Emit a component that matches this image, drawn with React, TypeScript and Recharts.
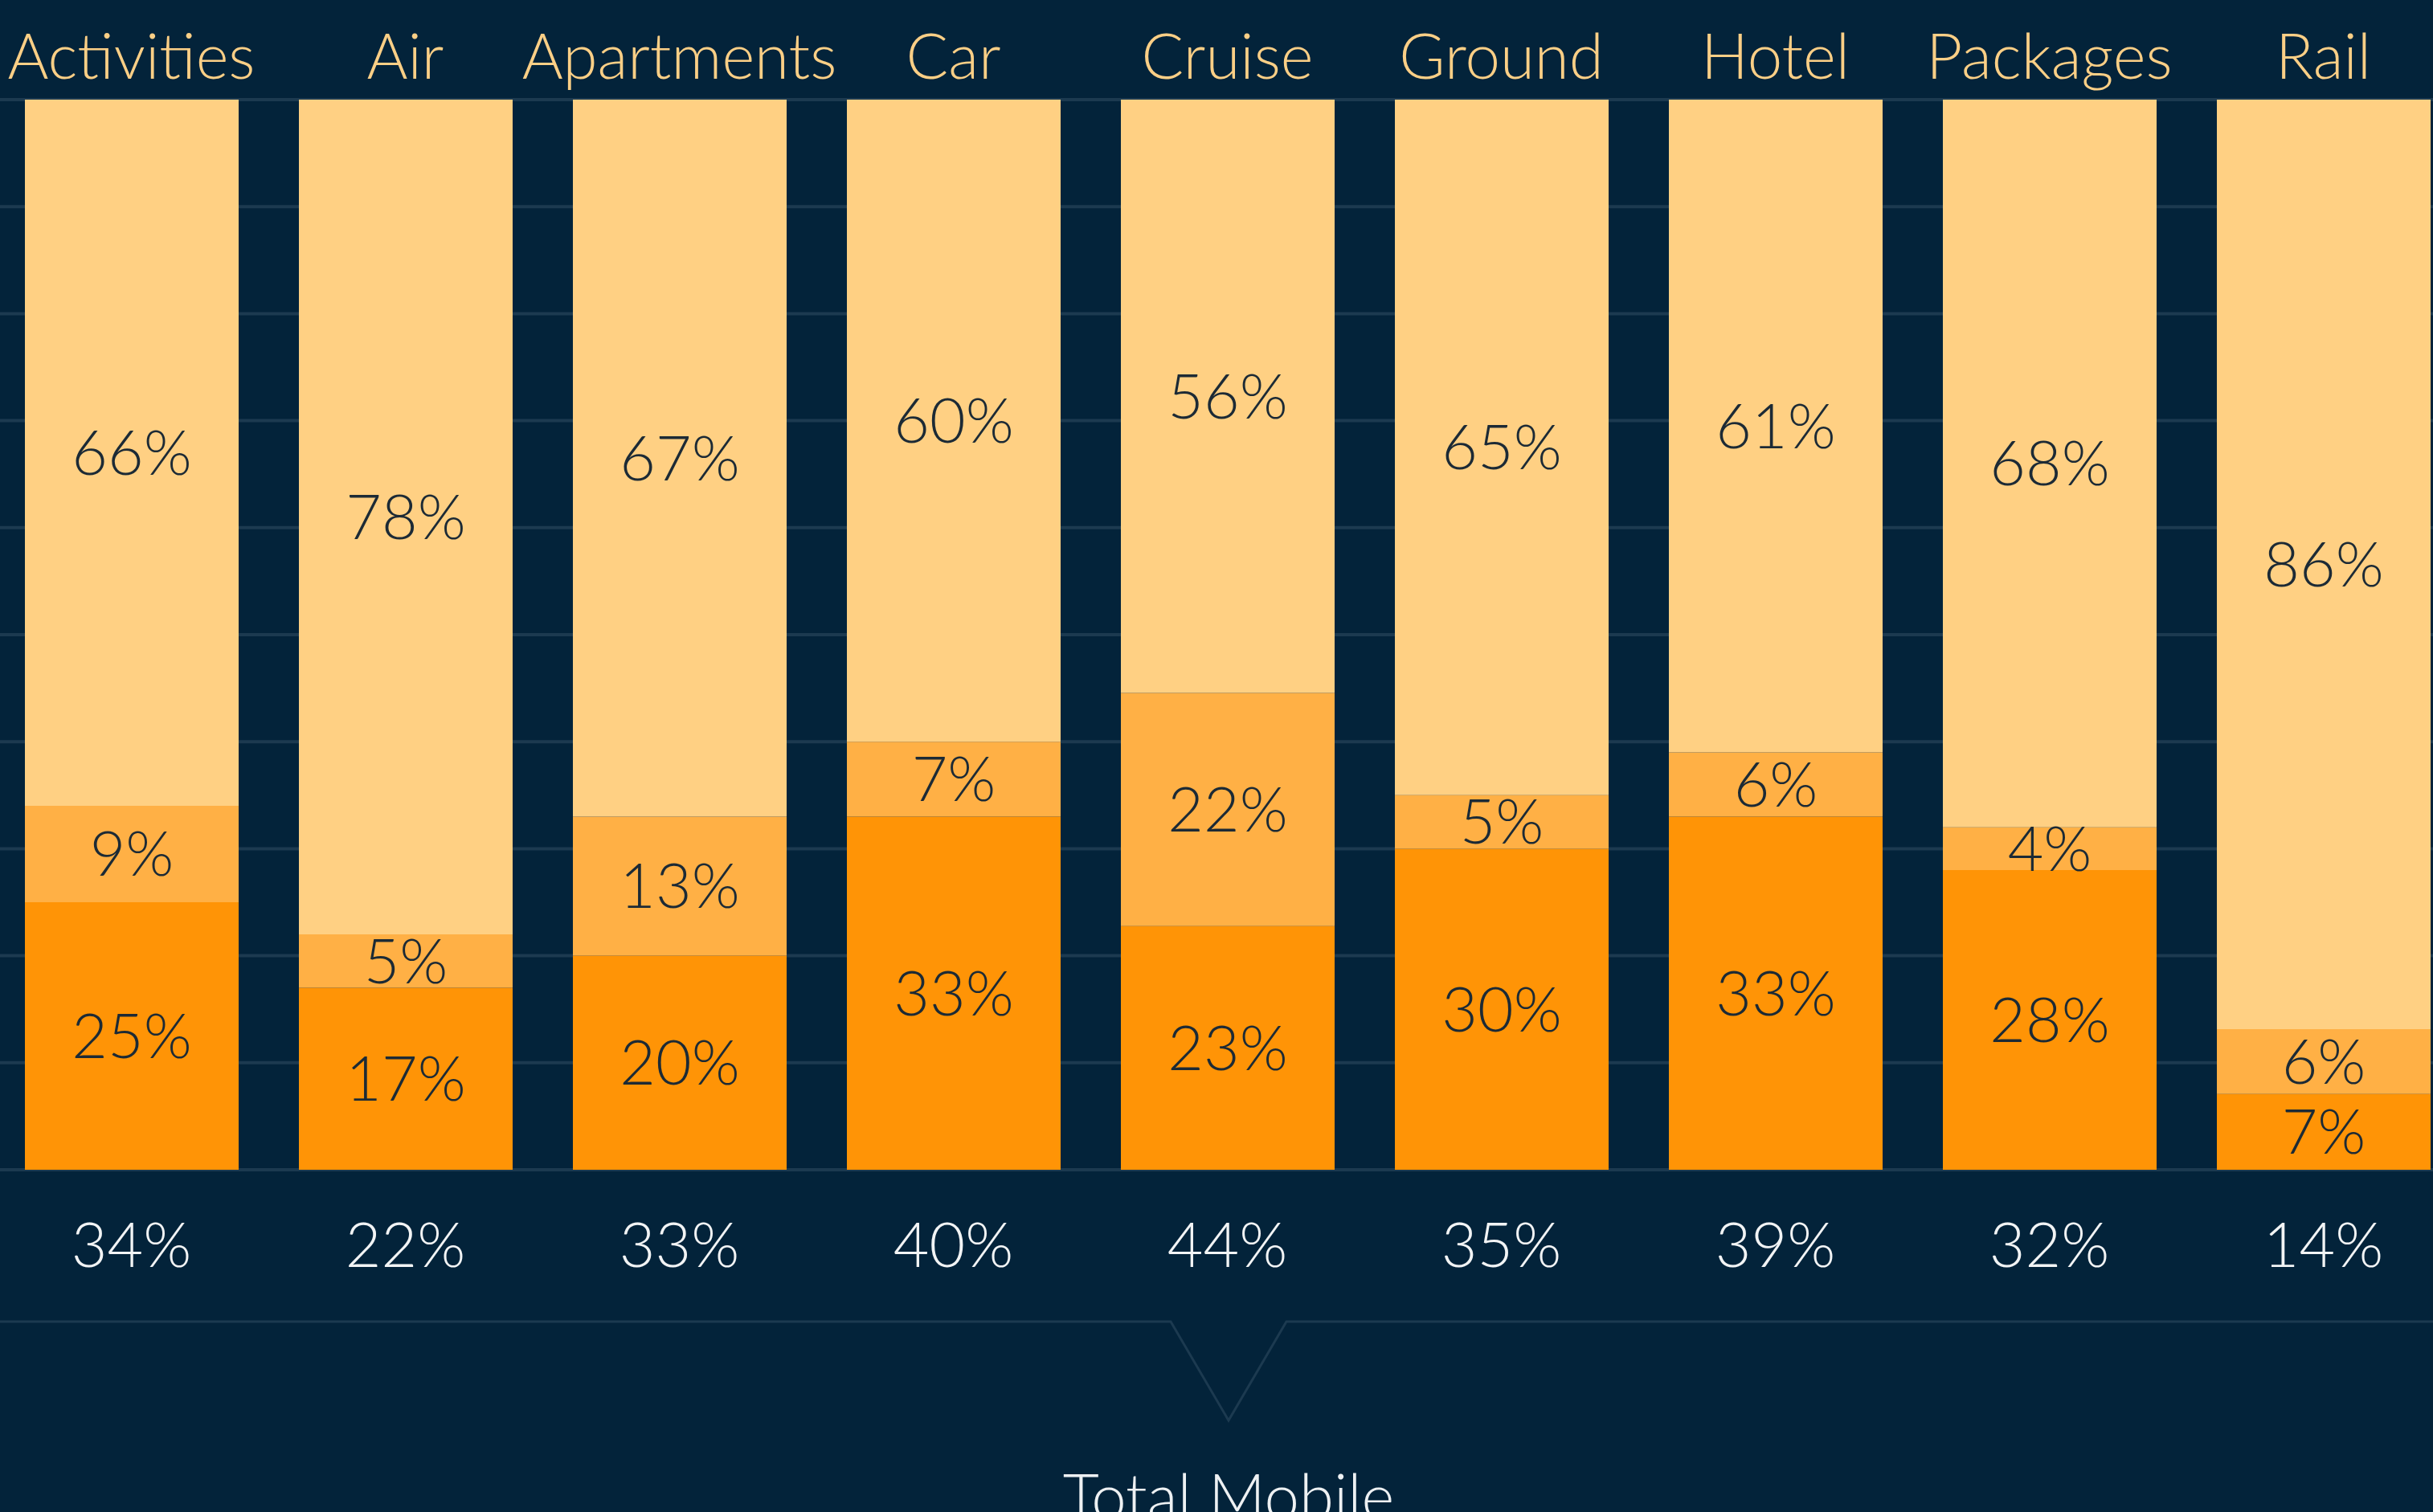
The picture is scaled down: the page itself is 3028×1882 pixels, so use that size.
import React from "react";
import { BarChart, Bar, XAxis, YAxis, CartesianGrid, LabelList } from "recharts";

const categories = ["Activities", "Air", "Apartments", "Car", "Cruise", "Ground", "Hotel", "Packages", "Rail"];
const smartphone = [25, 17, 20, 33, 23, 30, 33, 28, 7];
const tablet = [9, 5, 13, 7, 22, 5, 6, 4, 6];
const desktop = [66, 78, 67, 60, 56, 65, 61, 68, 86];
const totalMobile = [34, 22, 33, 40, 44, 35, 39, 32, 14];

const data = categories.map((name, i) => ({
  name,
  smartphone: smartphone[i],
  tablet: tablet[i],
  desktop: desktop[i],
  total: totalMobile[i],
}));

const BG = "#03233a";
const GRID = "#1c3a50";
const FONT = "Lato, 'Open Sans', sans-serif";
const pct = (v: any) => `${v}%`;

const inBar = { fill: "#1c2a35", fontSize: 77, fontFamily: FONT, fontWeight: 300 };

export default function App() {
  return (
    <div
      style={{
        position: "absolute",
        left: 0,
        top: 0,
        width: 3028,
        height: 1882,
        overflow: "hidden",
        background: BG,
        fontFamily: FONT,
      }}
    >
      <div style={{ position: "absolute", left: -7, top: 0 }}>
        <BarChart
          width={3069}
          height={1656}
          data={data}
          stackOffset="expand"
          margin={{ top: 0, right: 0, bottom: 0, left: 0 }}
        >
          <CartesianGrid vertical={false} stroke={GRID} strokeWidth={4} />
          <XAxis
            xAxisId="top"
            orientation="top"
            dataKey="name"
            height={124}
            axisLine={false}
            tickLine={false}
            tickSize={0}
            tickMargin={26}
            interval={0}
            tick={{ fill: "#fbcf86", fontSize: 78, fontFamily: FONT, fontWeight: 300 }}
          />
          <XAxis
            xAxisId="bottom"
            orientation="bottom"
            dataKey="total"
            height={200}
            axisLine={false}
            tickLine={false}
            tickSize={0}
            tickMargin={66}
            interval={0}
            tickFormatter={pct}
            tick={{ fill: "#f2f4f5", fontSize: 77, fontFamily: FONT, fontWeight: 300 }}
          />
          <YAxis hide domain={[0, 1]} ticks={[0, 0.1, 0.2, 0.3, 0.4, 0.5, 0.6, 0.7, 0.8, 0.9, 1]} />
          <Bar dataKey="smartphone" stackId="a" xAxisId="top" fill="#ff9406" barSize={266} isAnimationActive={false}>
            <LabelList dataKey="smartphone" position="center" formatter={pct} {...inBar} />
          </Bar>
          <Bar dataKey="tablet" stackId="a" xAxisId="top" fill="#ffb045" barSize={266} isAnimationActive={false}>
            <LabelList dataKey="tablet" position="center" formatter={pct} {...inBar} />
          </Bar>
          <Bar dataKey="desktop" stackId="a" xAxisId="top" fill="#ffd083" barSize={266} isAnimationActive={false}>
            <LabelList dataKey="desktop" position="center" formatter={pct} {...inBar} />
          </Bar>
        </BarChart>
      </div>
      <svg width={3028} height={1882} style={{ position: "absolute", left: 0, top: 0, pointerEvents: "none" }}>
        <polyline
          points="0,1645 1457,1645 1529,1768 1601,1645 3028,1645"
          fill="none"
          stroke={GRID}
          strokeWidth={3}
        />
        <text
          x={1529}
          y={1891}
          textAnchor="middle"
          fill="#eef1f3"
          fontSize={78}
          fontFamily={FONT}
          fontWeight={300}
        >
          Total Mobile
        </text>
      </svg>
    </div>
  );
}
